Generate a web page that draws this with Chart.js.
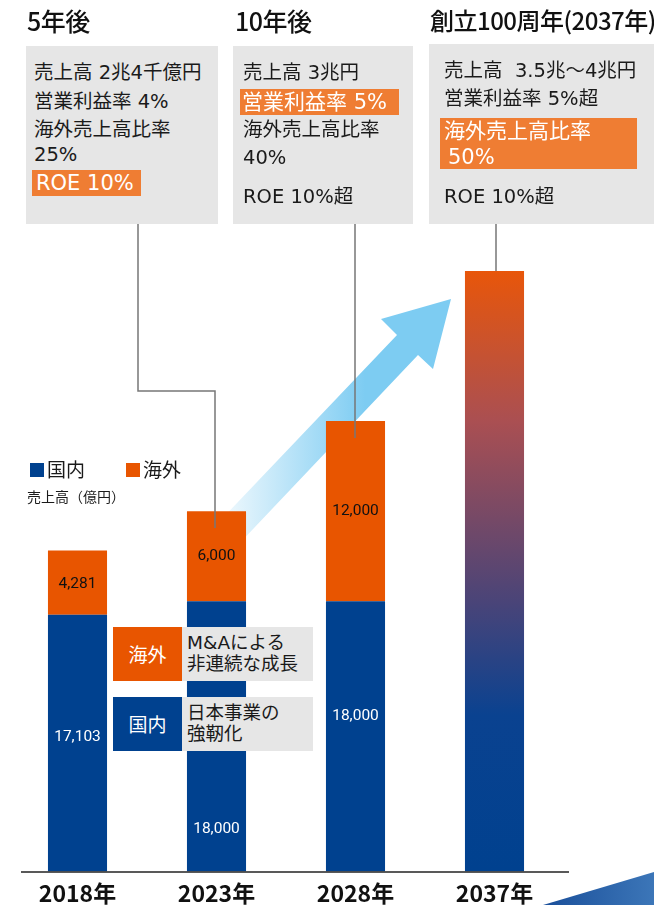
<!DOCTYPE html>
<html lang="ja">
<head>
<meta charset="utf-8">
<script src="https://cdn.jsdelivr.net/npm/chart.js@4.4.1/dist/chart.umd.min.js"></script>
<style>
  html, body { margin: 0; padding: 0; background: #fff; }
  body { font-family: "DejaVu Sans", "Noto Sans CJK JP", sans-serif; color: #1a1a1a; }
  #page { position: relative; width: 654px; height: 905px; overflow: hidden; }
  #wrap { position: absolute; left: 0; top: 0; width: 654px; height: 905px; }
  .abs { position: absolute; white-space: nowrap; }
  .head { font-family: "Noto Sans CJK JP", sans-serif; font-size: 25px; font-weight: 500; line-height: 30px; color: #111; letter-spacing: -0.5px; }
  .box { background: #e6e6e6; }
  .t { font-size: 19.5px; line-height: 24px; }
  .hl { background: #ef7d33; color: #fff; }
  .ht { font-size: 21px; line-height: 24px; color: #fff; }
  .tag { font-family: "Noto Sans CJK JP", sans-serif; color: #fff; font-size: 19px; text-align: center; line-height: 54px; }
  .note { font-size: 18.5px; line-height: 21px; color: #1a1a1a; padding: 5px 0 0 5px; box-sizing: border-box; }
  .sq { width: 14px; height: 14px; }
</style>
</head>
<body>
<div id="page">
  <div id="wrap"><canvas id="chart"></canvas></div>

  <!-- 目標ボックス -->
  <div class="abs head" style="left:27px;top:5px;">5年後</div>
  <div class="abs head" style="left:235px;top:5px;">10年後</div>
  <div class="abs head" style="left:430px;top:5px;font-size:24px;">創立100周年(2037年)</div>

  <div class="abs box" style="left:26px;top:46px;width:192px;height:178px;"></div>
  <div class="abs t" style="left:34px;top:61px;">売上高 2兆4千億円</div>
  <div class="abs t" style="left:34px;top:90px;">営業利益率 4%</div>
  <div class="abs t" style="left:34px;top:118px;">海外売上高比率</div>
  <div class="abs t" style="left:34px;top:143px;">25%</div>
  <div class="abs hl" style="left:32px;top:170px;width:109px;height:26px;"></div>
  <div class="abs ht" style="left:36px;top:171px;">ROE 10%</div>

  <div class="abs box" style="left:233px;top:46px;width:180px;height:178px;"></div>
  <div class="abs t" style="left:243px;top:61px;">売上高 3兆円</div>
  <div class="abs hl" style="left:240px;top:89px;width:159px;height:26px;"></div>
  <div class="abs ht" style="left:242px;top:90px;">営業利益率 5%</div>
  <div class="abs t" style="left:243px;top:118px;">海外売上高比率</div>
  <div class="abs t" style="left:243px;top:146px;">40%</div>
  <div class="abs t" style="left:243px;top:185px;">ROE 10%超</div>

  <div class="abs box" style="left:429px;top:44px;width:225px;height:180px;"></div>
  <div class="abs t" style="left:444px;top:59px;">売上高&nbsp; 3.5兆～4兆円</div>
  <div class="abs t" style="left:444px;top:87px;">営業利益率 5%超</div>
  <div class="abs hl" style="left:440px;top:118px;width:197px;height:51px;"></div>
  <div class="abs ht" style="left:444px;top:119px;">海外売上高比率</div>
  <div class="abs ht" style="left:448px;top:145px;">50%</div>
  <div class="abs t" style="left:444px;top:185px;">ROE 10%超</div>

  <!-- 凡例 -->
  <div class="abs sq" style="left:30px;top:463px;background:#00418f;"></div>
  <div class="abs" style="left:47px;top:458px;font-size:19px;line-height:24px;">国内</div>
  <div class="abs sq" style="left:126px;top:463px;background:#e85500;"></div>
  <div class="abs" style="left:143px;top:458px;font-size:19px;line-height:24px;">海外</div>
  <div class="abs" style="left:27px;top:485px;font-size:14px;line-height:22px;font-family:'Noto Sans CJK JP',sans-serif;">売上高（億円）</div>

  <!-- 成長の内訳 -->
  <div class="abs tag" style="left:113px;top:627px;width:69px;height:54px;background:#e85500;">海外</div>
  <div class="abs box note" style="left:182px;top:627px;width:131px;height:54px;">M&amp;Aによる<br>非連続な成長</div>
  <div class="abs tag" style="left:113px;top:697px;width:69px;height:54px;background:#00418f;">国内</div>
  <div class="abs box note" style="left:182px;top:697px;width:131px;height:54px;">日本事業の<br>強靭化</div>

  <svg class="abs" style="left:0;top:0;" width="654" height="905">
    <defs>
      <linearGradient id="wedge" x1="0" y1="0" x2="1" y2="0">
        <stop offset="0" stop-color="#1a4f9a"/>
        <stop offset="1" stop-color="#3c76b8"/>
      </linearGradient>
    </defs>
    <polygon points="543,905 654,872 654,905" fill="url(#wedge)"/>
  </svg>
</div>

<script>
const years = ['2018年', '2023年', '2028年', '2037年'];
const domestic = [17103, 18000, 18000, null];
const overseas = [4281, 6000, 12000, null];
const total2037 = [null, null, null, 40000];
const yMax = 40000;

const BLUE = '#00418f';
const ORANGE = '#e85500';
const FONT = '"Noto Sans CJK JP", "Noto Sans", sans-serif';

function fmt(v) {
  return v.toLocaleString('en-US');
}

function goalGradient(context) {
  const chart = context.chart;
  const area = chart.chartArea;
  if (!area) return BLUE;
  const g = chart.ctx.createLinearGradient(0, area.top, 0, area.bottom);
  g.addColorStop(0, '#e8560a');
  g.addColorStop(0.25, '#aa4f52');
  g.addColorStop(0.55, '#4a4478');
  g.addColorStop(0.74, '#0a4290');
  g.addColorStop(1, BLUE);
  return g;
}

// 値ラベルの縦位置の微調整（棒の中心からのずれ）
const labelShift = {
  0: [-6, 93, -20, 0],
  1: [2, 0, 0, 0]
};

const decor = {
  id: 'decor',
  beforeDatasetsDraw(chart) {
    const ctx = chart.ctx;
    // 成長の矢印
    ctx.save();
    const g = ctx.createLinearGradient(225, 0, 365, 0);
    g.addColorStop(0, '#eef8fd');
    g.addColorStop(1, '#7dccf2');
    ctx.fillStyle = g;
    ctx.beginPath();
    ctx.moveTo(451, 299);
    ctx.lineTo(381, 319);
    ctx.lineTo(397, 335);
    ctx.lineTo(197, 545);
    ctx.lineTo(218, 566);
    ctx.lineTo(418, 355);
    ctx.lineTo(433, 369);
    ctx.closePath();
    ctx.fill();
    ctx.restore();
  },
  afterDatasetsDraw(chart) {
    const ctx = chart.ctx;
    const area = chart.chartArea;
    ctx.save();

    // 軸線
    ctx.strokeStyle = '#222';
    ctx.lineWidth = 1.5;
    ctx.beginPath();
    ctx.moveTo(21, area.bottom + 0.5);
    ctx.lineTo(569, area.bottom + 0.5);
    ctx.stroke();

    // 目標ボックスからの引き出し線
    ctx.strokeStyle = '#777';
    ctx.lineWidth = 1.5;
    ctx.beginPath();
    ctx.moveTo(138, 224);
    ctx.lineTo(138, 391);
    ctx.lineTo(215, 391);
    ctx.lineTo(215, 528);
    ctx.moveTo(355, 224);
    ctx.lineTo(355, 438);
    ctx.moveTo(496, 224);
    ctx.lineTo(496, 271);
    ctx.stroke();

    // 値ラベル
    ctx.font = '15.5px Roboto, "Liberation Sans", sans-serif';
    ctx.textAlign = 'center';
    ctx.textBaseline = 'middle';
    [0, 1].forEach(di => {
      const meta = chart.getDatasetMeta(di);
      const values = chart.data.datasets[di].data;
      meta.data.forEach((el, i) => {
        if (values[i] == null) return;
        const y = (el.y + el.base) / 2 + labelShift[di][i];
        ctx.fillStyle = di === 0 ? '#fff' : '#111';
        ctx.fillText(fmt(values[i]), el.x, y);
      });
    });
    ctx.restore();
  }
};

new Chart(document.getElementById('chart'), {
  type: 'bar',
  data: {
    labels: years,
    datasets: [
      { label: '国内', data: domestic, backgroundColor: BLUE },
      { label: '海外', data: overseas, backgroundColor: ORANGE },
      { label: '2037年', data: total2037, backgroundColor: goalGradient }
    ]
  },
  options: {
    responsive: true,
    maintainAspectRatio: false,
    animation: false,
    layout: { padding: { top: 271, left: 8, right: 90, bottom: -10 } },
    datasets: { bar: { barPercentage: 0.425, categoryPercentage: 1 } },
    plugins: {
      legend: { display: false },
      tooltip: { enabled: false }
    },
    scales: {
      x: {
        stacked: true,
        grid: { display: false, drawTicks: false },
        border: { display: false },
        ticks: {
          color: '#111',
          padding: 8,
          font: { family: FONT, size: 23, weight: 'bold' }
        }
      },
      y: {
        stacked: true,
        display: false,
        min: 0,
        max: yMax
      }
    }
  },
  plugins: [decor]
});
</script>
</body>
</html>
